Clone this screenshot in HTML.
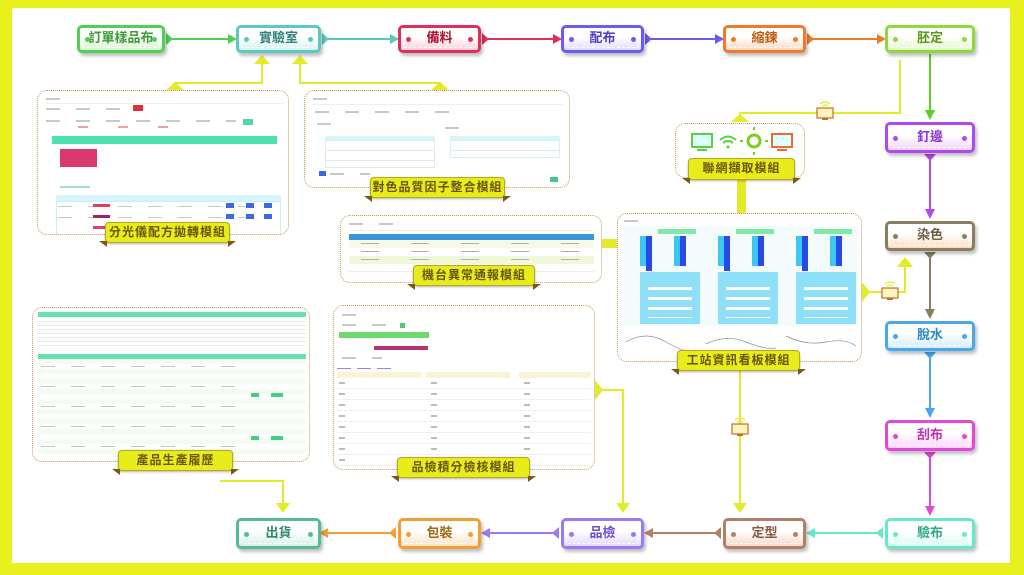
<!DOCTYPE html>
<html><head><meta charset="utf-8">
<style>
*{margin:0;padding:0;box-sizing:border-box}
body{width:1024px;height:575px;background:#e8f01e;position:relative;overflow:hidden;font-family:"Liberation Sans","Noto Sans CJK TC",sans-serif}
.inner{position:absolute;left:12px;top:8px;width:998px;height:555px;background:#fff}
.node{position:absolute;height:28px;border:3px solid;border-radius:5px;box-shadow:2px 3px 3px rgba(0,0,0,.25);font-weight:bold;font-size:13px;text-align:center;line-height:20px}
.node .in{position:absolute;left:2px;right:2px;top:2px;bottom:2px;border:1px dashed rgba(255,255,255,.9);border-radius:2px}
.node .d{position:absolute;top:9px;width:5px;height:5px;border-radius:50%}
.node .d.l{left:5px}.node .d.r{right:5px}
.node span{position:relative}
.panel{position:absolute;background:#fff;border:1.5px dotted #c8955a;border-radius:10px;overflow:hidden}
.lab{position:absolute;height:21px;background:#e8ec1a;border:1px solid #b8a820;border-radius:4px;color:#6a5410;font-weight:bold;font-size:12px;text-align:center;line-height:19px;letter-spacing:1px;box-shadow:0 1px 2px rgba(0,0,0,.3)}
.lab:before,.lab:after{content:"";position:absolute;bottom:-5px;border-top:6px solid #7a5a10}
.lab:before{left:-7px;border-left:8px solid transparent}
.lab:after{right:-7px;border-right:8px solid transparent}
.bar{position:absolute}
.g{position:absolute;background:repeating-linear-gradient(90deg,#c8c8c8 0,#c8c8c8 14px,transparent 14px,transparent 30px);height:2px}
.rows{position:absolute;background:repeating-linear-gradient(#fff 0,#fff 9px,#e6e6e6 9px,#e6e6e6 10px)}
svg{position:absolute;left:0;top:0}
</style></head><body>
<div class="inner"></div>

<svg width="1024" height="575">
<g stroke="#e3ea2a" stroke-width="2" fill="none">
<polyline points="175,90 175,83 262,83 262,62"/>
<polyline points="440,90 440,83 300,83 300,62"/>
<polyline points="900,60 900,113 740,113 740,120"/>
<polyline points="862,292 905,292 905,265"/>
<polyline points="740,370 740,505"/>
<polyline points="595,390 623,390 623,505"/>
<polyline points="220,481 283,481 283,505"/>
</g>
<g fill="#e3ea2a">
<polygon points="254,64 262,55 270,64"/>
<polygon points="292,64 300,55 308,64"/>
<polygon points="897,267 905,257 913,267"/>
<polygon points="733,503 740,513 747,503"/>
<polygon points="616,503 623,513 630,503"/>
<polygon points="276,503 283,513 290,503"/>
<polygon points="166,90 175,82 184,90"/>
<polygon points="431,90 440,82 449,90"/>
<polygon points="731,122 740,114 749,122"/>
<polygon points="862,282 870,292 862,302"/>
<polygon points="595,380 603,390 595,400"/>
<rect x="737" y="180" width="9" height="33"/>
<rect x="600" y="239" width="18" height="9"/>
</g>
<g>
<rect x="817" y="108" width="16" height="10" fill="#fff3c0" stroke="#c07020" stroke-width="1.2"/><rect x="822" y="118" width="6" height="2" fill="#c07020"/>
<rect x="882" y="288" width="16" height="10" fill="#fff3c0" stroke="#c07020" stroke-width="1.2"/><rect x="887" y="298" width="6" height="2" fill="#c07020"/>
<rect x="732" y="424" width="16" height="10" fill="#fff3c0" stroke="#c07020" stroke-width="1.2"/><rect x="737" y="434" width="6" height="2" fill="#c07020"/>
<path d="M820,104 q5,-4 10,0 M822,106 q3,-2 6,0" stroke="#e3ea2a" stroke-width="1.2" fill="none"/>
<path d="M885,284 q5,-4 10,0 M887,286 q3,-2 6,0" stroke="#e3ea2a" stroke-width="1.2" fill="none"/>
<path d="M735,420 q5,-4 10,0 M737,422 q3,-2 6,0" stroke="#e3ea2a" stroke-width="1.2" fill="none"/>
</g>
<g stroke-width="2" fill="none">
<line x1="166" y1="39" x2="228" y2="39" stroke="#4fcf57"/>
<line x1="322" y1="39" x2="390" y2="39" stroke="#5cc8c0"/>
<line x1="482" y1="39" x2="553" y2="39" stroke="#e0305a"/>
<line x1="645" y1="39" x2="715" y2="39" stroke="#6a5cf0"/>
<line x1="807" y1="39" x2="877" y2="39" stroke="#f07a2a"/>
<line x1="930" y1="54" x2="930" y2="112" stroke="#5ad020"/>
<line x1="930" y1="154" x2="930" y2="211" stroke="#b04af0"/>
<line x1="930" y1="252" x2="930" y2="311" stroke="#8a7e62"/>
<line x1="930" y1="352" x2="930" y2="410" stroke="#48a8e8"/>
<line x1="930" y1="452" x2="930" y2="508" stroke="#e048d8"/>
<line x1="883" y1="533" x2="815" y2="533" stroke="#68e8c8"/>
<line x1="721" y1="533" x2="653" y2="533" stroke="#b08068"/>
<line x1="559" y1="533" x2="490" y2="533" stroke="#9a7af0"/>
<line x1="396" y1="533" x2="328" y2="533" stroke="#f0a030"/>
</g>
<g>
<polygon points="228,34 237,39 228,44" fill="#4fcf57"/><polygon points="166,33 173,39 166,45" fill="#4fcf57"/>
<polygon points="390,34 399,39 390,44" fill="#5cc8c0"/><polygon points="322,33 329,39 322,45" fill="#5cc8c0"/>
<polygon points="553,34 562,39 553,44" fill="#e0305a"/><polygon points="482,33 489,39 482,45" fill="#e0305a"/>
<polygon points="715,34 724,39 715,44" fill="#6a5cf0"/><polygon points="645,33 652,39 645,45" fill="#6a5cf0"/>
<polygon points="877,34 886,39 877,44" fill="#f07a2a"/><polygon points="807,33 814,39 807,45" fill="#f07a2a"/>
<polygon points="925,110 930,120 935,110" fill="#5ad020"/>
<polygon points="925,209 930,219 935,209" fill="#b04af0"/><polygon points="924,154 930,161 936,154" fill="#b04af0"/>
<polygon points="925,309 930,319 935,309" fill="#8a7e62"/><polygon points="924,252 930,259 936,252" fill="#8a7e62"/>
<polygon points="925,408 930,418 935,408" fill="#48a8e8"/><polygon points="924,352 930,359 936,352" fill="#48a8e8"/>
<polygon points="925,506 930,516 935,506" fill="#e048d8"/><polygon points="924,452 930,459 936,452" fill="#e048d8"/>
<polygon points="815,528 806,533 815,538" fill="#68e8c8"/><polygon points="883,527 876,533 883,539" fill="#68e8c8"/>
<polygon points="653,528 644,533 653,538" fill="#b08068"/><polygon points="721,527 714,533 721,539" fill="#b08068"/>
<polygon points="490,528 481,533 490,538" fill="#9a7af0"/><polygon points="559,527 552,533 559,539" fill="#9a7af0"/>
<polygon points="328,528 319,533 328,538" fill="#f0a030"/><polygon points="396,527 389,533 396,539" fill="#f0a030"/>
</g>
</svg>

<div class="node" style="left:77px;top:25px;width:88px;border-color:#4fcf57;background:linear-gradient(#fff 40%,#d6f5cc);color:#3d9a35"><div class="in"></div><i class="d l" style="background:#4fcf57"></i><i class="d r" style="background:#4fcf57"></i><span>訂單樣品布</span></div>
<div class="node" style="left:236px;top:25px;width:85px;border-color:#5cc8c0;background:linear-gradient(#fff 40%,#d3f2ef);color:#2f7f7a"><div class="in"></div><i class="d l" style="background:#5cc8c0"></i><i class="d r" style="background:#5cc8c0"></i><span>實驗室</span></div>
<div class="node" style="left:398px;top:25px;width:83px;border-color:#e0305a;background:linear-gradient(#fff 40%,#fcd0dc);color:#b01030"><div class="in"></div><i class="d l" style="background:#e0305a"></i><i class="d r" style="background:#e0305a"></i><span>備料</span></div>
<div class="node" style="left:561px;top:25px;width:83px;border-color:#6a5cf0;background:linear-gradient(#fff 40%,#e0dbff);color:#4a3ad0"><div class="in"></div><i class="d l" style="background:#6a5cf0"></i><i class="d r" style="background:#6a5cf0"></i><span>配布</span></div>
<div class="node" style="left:723px;top:25px;width:83px;border-color:#f07a2a;background:linear-gradient(#fff 40%,#fcd8c0);color:#c05a10"><div class="in"></div><i class="d l" style="background:#f07a2a"></i><i class="d r" style="background:#f07a2a"></i><span>縮鍊</span></div>
<div class="node" style="left:885px;top:25px;width:90px;border-color:#8ed83a;background:linear-gradient(#fff 40%,#e4f7c8);color:#5a9a1a"><div class="in"></div><i class="d l" style="background:#8ed83a"></i><i class="d r" style="background:#8ed83a"></i><span>胚定</span></div>
<div class="node" style="left:885px;top:122px;width:90px;height:31px;border-color:#b04af0;background:linear-gradient(#fff 40%,#efd2ff);color:#9030d0;line-height:23px"><div class="in"></div><i class="d l" style="background:#b04af0;top:11px"></i><i class="d r" style="background:#b04af0;top:11px"></i><span>釘邊</span></div>
<div class="node" style="left:885px;top:221px;width:90px;height:30px;border-color:#8a7e62;background:linear-gradient(#fff 40%,#fadcc2);color:#6a5e42;line-height:22px"><div class="in"></div><i class="d l" style="background:#8a7e62;top:10px"></i><i class="d r" style="background:#8a7e62;top:10px"></i><span>染色</span></div>
<div class="node" style="left:885px;top:321px;width:90px;height:30px;border-color:#48a8e8;background:linear-gradient(#fff 40%,#d3ecff);color:#2a88c8;line-height:22px"><div class="in"></div><i class="d l" style="background:#48a8e8;top:10px"></i><i class="d r" style="background:#48a8e8;top:10px"></i><span>脫水</span></div>
<div class="node" style="left:885px;top:420px;width:90px;height:31px;border-color:#e048d8;background:linear-gradient(#fff 40%,#fcd2f8);color:#c030b8;line-height:23px"><div class="in"></div><i class="d l" style="background:#e048d8;top:11px"></i><i class="d r" style="background:#e048d8;top:11px"></i><span>刮布</span></div>
<div class="node" style="left:885px;top:518px;width:90px;height:31px;border-color:#68e8c8;background:linear-gradient(#fff 40%,#d6fff2);color:#30a888;line-height:23px"><div class="in"></div><i class="d l" style="background:#68e8c8;top:11px"></i><i class="d r" style="background:#68e8c8;top:11px"></i><span>驗布</span></div>
<div class="node" style="left:723px;top:518px;width:83px;height:31px;border-color:#b08068;background:linear-gradient(#fff 40%,#fad8c8);color:#8a5a40;line-height:23px"><div class="in"></div><i class="d l" style="background:#b08068;top:11px"></i><i class="d r" style="background:#b08068;top:11px"></i><span>定型</span></div>
<div class="node" style="left:561px;top:518px;width:83px;height:31px;border-color:#9a7af0;background:linear-gradient(#fff 40%,#e2d8ff);color:#6a4ad0;line-height:23px"><div class="in"></div><i class="d l" style="background:#9a7af0;top:11px"></i><i class="d r" style="background:#9a7af0;top:11px"></i><span>品檢</span></div>
<div class="node" style="left:398px;top:518px;width:83px;height:31px;border-color:#f0a030;background:linear-gradient(#fff 40%,#fbe2c4);color:#a06810;line-height:23px"><div class="in"></div><i class="d l" style="background:#f0a030;top:11px"></i><i class="d r" style="background:#f0a030;top:11px"></i><span>包裝</span></div>
<div class="node" style="left:236px;top:518px;width:85px;height:31px;border-color:#58b898;background:linear-gradient(#fff 40%,#d2f2e4);color:#308868;line-height:23px"><div class="in"></div><i class="d l" style="background:#58b898;top:11px"></i><i class="d r" style="background:#58b898;top:11px"></i><span>出貨</span></div>

<!-- panel 分光儀 -->
<div class="panel" style="left:37px;top:90px;width:252px;height:145px">
 <div class="g" style="left:8px;top:7px;width:30px"></div>
 <div class="bar" style="left:8px;top:12px;width:238px;height:1px;background:#eee"></div>
 <div class="g" style="left:8px;top:17px;width:80px"></div>
 <div class="bar" style="left:95px;top:14px;width:10px;height:6px;background:#e03040"></div>
 <div class="g" style="left:8px;top:29px;width:190px"></div>
 <div class="g" style="left:40px;top:35px;width:120px;background:repeating-linear-gradient(90deg,#f0a0a0 0,#f0a0a0 10px,transparent 10px,transparent 40px)"></div>
 <div class="bar" style="left:205px;top:28px;width:10px;height:6px;background:#50d8b0"></div>
 <div class="bar" style="left:14px;top:45px;width:225px;height:8px;background:#4de0b0"></div>
 <div class="bar" style="left:22px;top:58px;width:37px;height:18px;background:#d83a70"></div>
 <div class="g" style="left:22px;top:95px;width:30px;background:#a0e0d0"></div>
 <div class="bar" style="left:18px;top:104px;width:225px;height:6px;background:#d6f4fa"></div>
 <div class="bar" style="left:18px;top:110px;width:225px;height:35px;border:1px solid #c8eef8"></div>
 <div class="g" style="left:20px;top:115px;width:190px;height:1px"></div>
 <div class="g" style="left:20px;top:126px;width:190px;height:1px"></div>
 <div class="bar" style="left:55px;top:113px;width:17px;height:3px;background:#e04060"></div>
 <div class="bar" style="left:55px;top:124px;width:17px;height:3px;background:#a02060"></div>
 <div class="bar" style="left:55px;top:135px;width:17px;height:3px;background:#e04070"></div>
 <div class="bar" style="left:188px;top:112px;width:8px;height:5px;background:#3a6ae0"></div>
 <div class="bar" style="left:208px;top:112px;width:8px;height:5px;background:#3a6ae0"></div>
 <div class="bar" style="left:226px;top:112px;width:8px;height:5px;background:#3a6ae0"></div>
 <div class="bar" style="left:188px;top:123px;width:8px;height:5px;background:#3a6ae0"></div>
 <div class="bar" style="left:208px;top:123px;width:8px;height:5px;background:#3a6ae0"></div>
 <div class="bar" style="left:226px;top:123px;width:8px;height:5px;background:#3a6ae0"></div>
</div>
<div class="lab" style="left:105px;top:222px;width:125px">分光儀配方拋轉模組</div>

<!-- panel 對色 -->
<div class="panel" style="left:304px;top:90px;width:266px;height:98px">
 <div class="g" style="left:8px;top:7px;width:25px"></div>
 <div class="bar" style="left:8px;top:13px;width:250px;height:1px;background:#eee"></div>
 <div class="g" style="left:10px;top:20px;width:150px"></div>
 <div class="g" style="left:12px;top:32px;width:20px"></div>
 <div class="g" style="left:140px;top:36px;width:20px"></div>
 <div class="bar" style="left:20px;top:45px;width:110px;height:4px;background:#d6f4fa"></div>
 <div class="rows" style="left:20px;top:49px;width:110px;height:28px;border:1px solid #d6eef8"></div>
 <div class="bar" style="left:145px;top:45px;width:110px;height:4px;background:#d6f4fa"></div>
 <div class="rows" style="left:145px;top:49px;width:110px;height:18px;border:1px solid #d6eef8"></div>
 <div class="bar" style="left:14px;top:80px;width:7px;height:5px;background:#3a6ae0"></div>
 <div class="g" style="left:25px;top:82px;width:40px"></div>
 <div class="bar" style="left:245px;top:86px;width:8px;height:5px;background:#40c890"></div>
</div>
<div class="lab" style="left:370px;top:177px;width:135px">對色品質因子整合模組</div>

<!-- panel 聯網 -->
<div class="panel" style="left:675px;top:123px;width:130px;height:55px;overflow:visible">
 <svg width="130" height="40" style="left:0;top:0">
  <rect x="16" y="10" width="20" height="13" fill="#dff" stroke="#5ad040" stroke-width="2"/><rect x="21" y="25" width="10" height="2" fill="#5ad040"/>
  <path d="M44,16 q8,-7 16,0 M47,19 q5,-4 10,0" stroke="#5ad040" stroke-width="2" fill="none"/><circle cx="52" cy="23" r="1.5" fill="#5ad040"/>
  <circle cx="78" cy="17" r="6" fill="#fff" stroke="#7ad020" stroke-width="3"/>
  <path d="M78,6 v-3 M78,28 v3 M67,17 h-3 M89,17 h3" stroke="#7ad020" stroke-width="2"/>
  <rect x="96" y="10" width="20" height="13" fill="#dff" stroke="#f06a30" stroke-width="2"/><rect x="101" y="25" width="10" height="2" fill="#f06a30"/>
 </svg>
</div>
<div class="lab" style="left:688px;top:158px;width:107px;height:22px">聯網擷取模組</div>

<!-- panel 機台 -->
<div class="panel" style="left:340px;top:215px;width:262px;height:68px">
 <div class="g" style="left:8px;top:7px;width:45px"></div>
 <div class="bar" style="left:8px;top:14px;width:244px;height:1px;background:#eee"></div>
 <div class="bar" style="left:8px;top:18px;width:245px;height:6px;background:#3a98d8"></div>
 <div class="bar" style="left:8px;top:24px;width:245px;height:8px;background:#f6fbe8"></div>
 <div class="bar" style="left:8px;top:32px;width:245px;height:8px;background:#fff"></div>
 <div class="bar" style="left:8px;top:40px;width:245px;height:8px;background:#f0f8d8"></div>
 <div class="bar" style="left:8px;top:48px;width:245px;height:8px;background:#fff;border-bottom:1px solid #eee"></div>
 <div class="g" style="left:20px;top:27px;width:220px;height:1px;background:repeating-linear-gradient(90deg,#b0b0b0 0,#b0b0b0 18px,transparent 18px,transparent 50px)"></div>
 <div class="g" style="left:20px;top:35px;width:220px;height:1px;background:repeating-linear-gradient(90deg,#b0b0b0 0,#b0b0b0 18px,transparent 18px,transparent 50px)"></div>
 <div class="g" style="left:20px;top:43px;width:220px;height:1px;background:repeating-linear-gradient(90deg,#b0b0b0 0,#b0b0b0 18px,transparent 18px,transparent 50px)"></div>
</div>
<div class="lab" style="left:413px;top:265px;width:122px">機台異常通報模組</div>

<!-- panel 工站 -->
<div class="panel" style="left:617px;top:213px;width:245px;height:149px">
 <div class="g" style="left:6px;top:6px;width:15px"></div>
 <div class="bar" style="left:6px;top:12px;width:233px;height:100px;background:#f4fbfd"></div>
 <div class="bar" style="left:40px;top:15px;width:38px;height:5px;background:#80e8a8"></div>
 <div class="bar" style="left:118px;top:15px;width:38px;height:5px;background:#80e8a8"></div>
 <div class="bar" style="left:196px;top:15px;width:38px;height:5px;background:#80e8a8"></div>
 <div class="bar" style="left:22px;top:22px;width:12px;height:30px;background:#3cc8f0"></div><div class="bar" style="left:28px;top:22px;width:6px;height:35px;background:#2a4ae8"></div>
 <div class="bar" style="left:56px;top:22px;width:10px;height:30px;background:#3cc8f0"></div><div class="bar" style="left:62px;top:22px;width:6px;height:30px;background:#2a4ae8"></div>
 <div class="bar" style="left:100px;top:22px;width:12px;height:30px;background:#3cc8f0"></div><div class="bar" style="left:106px;top:22px;width:6px;height:35px;background:#2a4ae8"></div>
 <div class="bar" style="left:134px;top:22px;width:10px;height:30px;background:#3cc8f0"></div><div class="bar" style="left:140px;top:22px;width:6px;height:30px;background:#2a4ae8"></div>
 <div class="bar" style="left:178px;top:22px;width:12px;height:30px;background:#3cc8f0"></div><div class="bar" style="left:184px;top:22px;width:6px;height:35px;background:#2a4ae8"></div>
 <div class="bar" style="left:212px;top:22px;width:10px;height:30px;background:#3cc8f0"></div><div class="bar" style="left:218px;top:22px;width:6px;height:30px;background:#2a4ae8"></div>
 <div class="bar" style="left:22px;top:58px;width:60px;height:52px;background:#8ee0f8"></div>
 <div class="bar" style="left:100px;top:58px;width:60px;height:52px;background:#8ee0f8"></div>
 <div class="bar" style="left:178px;top:58px;width:60px;height:52px;background:#8ee0f8"></div>
 <div class="bar" style="left:30px;top:66px;width:44px;height:38px;background:repeating-linear-gradient(#8ee0f8 0,#8ee0f8 7px,#fff 7px,#fff 10px)"></div>
 <div class="bar" style="left:108px;top:66px;width:44px;height:38px;background:repeating-linear-gradient(#8ee0f8 0,#8ee0f8 7px,#fff 7px,#fff 10px)"></div>
 <div class="bar" style="left:186px;top:66px;width:44px;height:38px;background:repeating-linear-gradient(#8ee0f8 0,#8ee0f8 7px,#fff 7px,#fff 10px)"></div>
 <svg width="245" height="40" style="left:0;top:108px">
  <path d="M8,20 q20,-12 40,0 t30,8" stroke="#88a" fill="none" stroke-width=".7"/>
  <path d="M88,22 q20,-10 40,-2 t30,6" stroke="#88a" fill="none" stroke-width=".7"/>
  <path d="M168,14 q20,10 40,6 t30,4" stroke="#88a" fill="none" stroke-width=".7"/>
 </svg>
</div>
<div class="lab" style="left:677px;top:350px;width:123px">工站資訊看板模組</div>

<!-- panel 產品生產履歷 -->
<div class="panel" style="left:32px;top:307px;width:278px;height:155px">
 <div class="bar" style="left:5px;top:4px;width:268px;height:5px;background:#6ae0b0"></div>
 <div class="bar" style="left:5px;top:10px;width:268px;height:30px;background:linear-gradient(#fff 0,#fff 3px,#eee 3px,#eee 4px) 0 0/100% 4px"></div>
 <div class="bar" style="left:5px;top:46px;width:268px;height:5px;background:#6ae0b0"></div>
 <div class="bar" style="left:5px;top:51px;width:268px;height:95px;background:repeating-linear-gradient(#f4fbf0 0,#f4fbf0 5px,#fff 5px,#fff 10px)"></div>
 <div class="g" style="left:8px;top:58px;width:200px;height:1px"></div>
 <div class="g" style="left:8px;top:78px;width:200px;height:1px"></div>
 <div class="g" style="left:8px;top:98px;width:200px;height:1px"></div>
 <div class="g" style="left:8px;top:118px;width:200px;height:1px"></div>
 <div class="g" style="left:8px;top:138px;width:200px;height:1px"></div>
 <div class="bar" style="left:218px;top:85px;width:8px;height:4px;background:#40d080"></div>
 <div class="bar" style="left:238px;top:85px;width:12px;height:4px;background:#40d080"></div>
 <div class="bar" style="left:218px;top:128px;width:8px;height:4px;background:#40d080"></div>
 <div class="bar" style="left:238px;top:128px;width:12px;height:4px;background:#40d080"></div>
</div>
<div class="lab" style="left:118px;top:450px;width:115px">產品生產履歷</div>

<!-- panel 品檢積分 -->
<div class="panel" style="left:333px;top:305px;width:262px;height:165px">
 <div class="g" style="left:8px;top:8px;width:30px"></div>
 <div class="g" style="left:8px;top:18px;width:50px"></div>
 <div class="bar" style="left:5px;top:26px;width:90px;height:6px;background:#70d870"></div>
 <div class="bar" style="left:40px;top:40px;width:54px;height:4px;background:#b83070"></div>
 <div class="g" style="left:8px;top:51px;width:40px"></div>
 <div class="bar" style="left:66px;top:17px;width:5px;height:5px;background:#50c870"></div>
 <div class="g" style="left:3px;top:62px;width:60px;height:1px;background:repeating-linear-gradient(90deg,#a080e0 0,#a080e0 14px,transparent 14px,transparent 20px)"></div>
 <div class="bar" style="left:3px;top:66px;width:84px;height:6px;background:#fbf3d8"></div>
 <div class="bar" style="left:92px;top:66px;width:84px;height:6px;background:#fbf3d8"></div>
 <div class="bar" style="left:185px;top:66px;width:72px;height:6px;background:#fbf3d8"></div>
 <div class="bar" style="left:3px;top:72px;width:254px;height:88px;background:repeating-linear-gradient(#fff 0,#fff 10px,#eef0f2 10px,#eef0f2 11px)"></div>
 <div class="bar" style="left:5px;top:76px;width:6px;height:80px;background:repeating-linear-gradient(#bbb 0,#bbb 2px,transparent 2px,transparent 11px)"></div>
 <div class="bar" style="left:97px;top:76px;width:6px;height:80px;background:repeating-linear-gradient(#bbb 0,#bbb 2px,transparent 2px,transparent 11px)"></div>
 <div class="bar" style="left:190px;top:76px;width:6px;height:80px;background:repeating-linear-gradient(#bbb 0,#bbb 2px,transparent 2px,transparent 11px)"></div>
</div>
<div class="lab" style="left:397px;top:457px;width:133px">品檢積分檢核模組</div>

</body></html>
